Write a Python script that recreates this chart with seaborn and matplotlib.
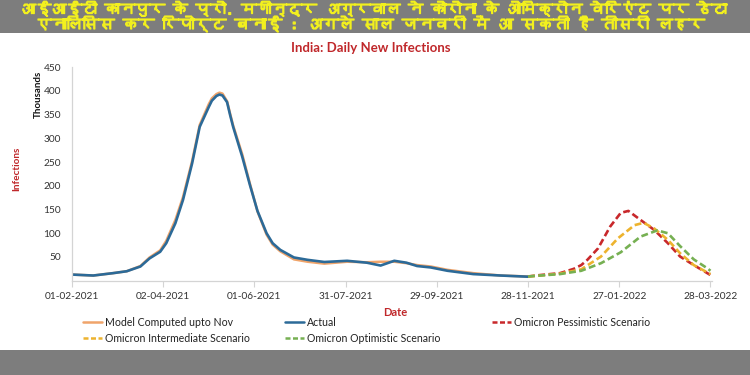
import matplotlib
matplotlib.use("Agg")
import numpy as np
import pandas as pd
import matplotlib.pyplot as plt
import matplotlib.dates as mdates
import matplotlib.patheffects as pe
from matplotlib.lines import Line2D
from matplotlib.patches import Rectangle
from matplotlib import font_manager
import seaborn as sns

# ---------------- data (thousands of daily new infections) ----------------
actual_dates = ["2021-02-01", "2021-02-15", "2021-02-28", "2021-03-09", "2021-03-18",
                "2021-03-24", "2021-03-31", "2021-04-04", "2021-04-10", "2021-04-15",
                "2021-04-21", "2021-04-26", "2021-05-02", "2021-05-04", "2021-05-07",
                "2021-05-09", "2021-05-11", "2021-05-14", "2021-05-16", "2021-05-18",
                "2021-05-24", "2021-05-29", "2021-06-03", "2021-06-09", "2021-06-13",
                "2021-06-18", "2021-06-27", "2021-07-06", "2021-07-17", "2021-08-01",
                "2021-08-14", "2021-08-23", "2021-09-01", "2021-09-09", "2021-09-16",
                "2021-09-25", "2021-10-06", "2021-10-23", "2021-11-10", "2021-11-28"]
actual_values = [13, 11, 16, 20, 30,
                 47, 61, 79, 121, 170,
                 247, 324, 366, 379, 389,
                 392, 390, 376, 349, 324,
                 261, 202, 147, 100, 79,
                 65, 49, 44, 39.5, 42,
                 38, 32, 42, 38, 31,
                 28, 21, 14, 11, 8.5]
model_values = [13, 11, 16, 20, 31,
                49, 64, 84, 128, 176,
                252, 328, 372, 384, 393,
                396, 394, 378, 352, 327,
                266, 205, 146, 97, 76,
                62, 45, 40, 36, 40,
                39, 40, 40, 37, 33,
                30, 23, 16, 11, 9]

omicron_dates = ["2021-11-28", "2021-12-06", "2021-12-19", "2021-12-28", "2022-01-02",
                 "2022-01-06", "2022-01-13", "2022-01-21", "2022-01-28", "2022-02-02",
                 "2022-02-10", "2022-02-19", "2022-02-28", "2022-03-08", "2022-03-17",
                 "2022-03-28"]
pessimistic_values = [9, 12, 16, 25, 33,
                      44, 68, 114, 143, 147,
                      128, 107, 79, 51, 33,
                      12]
intermediate_dates = ["2021-11-28", "2021-12-06", "2021-12-19", "2022-01-02", "2022-01-15",
                      "2022-01-26", "2022-02-06", "2022-02-12", "2022-02-19", "2022-02-28",
                      "2022-03-08", "2022-03-17", "2022-03-28"]
intermediate_values = [9, 11, 15, 24, 51,
                       89, 117, 122, 110, 86,
                       58, 33, 14]
optimistic_dates = ["2021-11-28", "2021-12-06", "2021-12-19", "2022-01-02", "2022-01-15",
                    "2022-01-28", "2022-02-10", "2022-02-21", "2022-02-28", "2022-03-08",
                    "2022-03-17", "2022-03-26", "2022-03-28"]
optimistic_values = [9, 11, 14, 21, 37,
                     60, 93, 106, 100, 73,
                     45, 26, 21]

x_tick_dates = ["2021-02-01", "2021-04-02", "2021-06-01", "2021-07-31",
                "2021-09-29", "2021-11-28", "2022-01-27", "2022-03-28"]
y_ticks = [50, 100, 150, 200, 250, 300, 350, 400, 450]

series_labels = ["Model Computed upto Nov", "Actual", "Omicron Pessimistic Scenario",
                 "Omicron Intermediate Scenario", "Omicron Optimistic Scenario"]
header_lines = ["आईआईटी कानपुर के प्रो. मणीन्द्र अग्रवाल ने कोरोना के ओमिक्रोन वेरिएंट पर डेटा",
                "एनालिसिस कर रिपोर्ट बनाई : अगले साल जनवरी में आ सकती है तीसरी लहर"]

# ---------------- style ----------------
sns.set_theme(style="white")
plt.rcParams['font.family'] = ['Lato', 'DejaVu Sans']


def _font_with(ch):
    try:
        from fontTools.ttLib import TTFont
    except Exception:
        return None
    for fe in font_manager.fontManager.ttflist:
        try:
            kw = {}
            if fe.fname.lower().endswith(('.ttc', '.otc')):
                kw['fontNumber'] = 0
            t = TTFont(fe.fname, lazy=True, **kw)
            cm = t.getBestCmap()
            if cm and ord(ch) in cm:
                return fe.name
        except Exception:
            continue
    return None


deva = _font_with('क')
hindi_family = [deva, 'DejaVu Sans'] if deva else ['DejaVu Sans']

C_MODEL = "#F0A46A"
C_ACTUAL = "#2C6A98"
C_PESS = "#C8282B"
C_INTER = "#EDB32E"
C_OPT = "#76B052"
C_HDR = "#F2F01E"

W, H = 750, 375
fig = plt.figure(figsize=(7.5, 3.75), dpi=100)
fig.patch.set_facecolor("white")

# banners
fig.patches.append(Rectangle((0, 1 - 33 / H), 1, 33 / H, transform=fig.transFigure,
                             facecolor="#7d7d7d", edgecolor="none", zorder=0))
fig.patches.append(Rectangle((0, 0), 1, 25 / H, transform=fig.transFigure,
                             facecolor="#7d7d7d", edgecolor="none", zorder=0))
hdr_fx = [pe.withStroke(linewidth=0.9, foreground=C_HDR)]
hdr1 = fig.text(373 / W, 1 - 8.5 / H, header_lines[0], ha="center", va="center",
                color=C_HDR, fontsize=11, fontweight="bold", family=hindi_family,
                path_effects=hdr_fx)
hdr2 = fig.text(371 / W, 1 - 24 / H, header_lines[1], ha="center", va="center",
                color=C_HDR, fontsize=11, fontweight="bold", family=hindi_family,
                path_effects=hdr_fx)

x0, x1, y0, y1 = 72, 712, 67, 280.75
ax = fig.add_axes([x0 / W, 1 - y1 / H, (x1 - x0) / W, (y1 - y0) / H])
ax.set_facecolor("white")

df_actual = pd.DataFrame({"date": pd.to_datetime(actual_dates), "model": model_values,
                          "actual": actual_values})
df_pess = pd.DataFrame({"date": pd.to_datetime(omicron_dates), "v": pessimistic_values})
df_inter = pd.DataFrame({"date": pd.to_datetime(intermediate_dates), "v": intermediate_values})
df_opt = pd.DataFrame({"date": pd.to_datetime(optimistic_dates), "v": optimistic_values})

dash = (0, (2.6, 1.3))
sns.lineplot(data=df_actual, x="date", y="model", ax=ax, color=C_MODEL, linewidth=1.8)
sns.lineplot(data=df_actual, x="date", y="actual", ax=ax, color=C_ACTUAL, linewidth=1.9)
sns.lineplot(data=df_pess, x="date", y="v", ax=ax, color=C_PESS, linewidth=1.9, linestyle=dash)
sns.lineplot(data=df_inter, x="date", y="v", ax=ax, color=C_INTER, linewidth=1.9, linestyle=dash)
sns.lineplot(data=df_opt, x="date", y="v", ax=ax, color=C_OPT, linewidth=1.9, linestyle=dash)

ax.set_xlim(pd.Timestamp("2021-02-01"), pd.Timestamp("2022-03-29"))
ax.set_ylim(0, 450)
ax.set_xticks(pd.to_datetime(x_tick_dates))
ax.xaxis.set_major_formatter(mdates.DateFormatter("%d-%m-%Y"))
ax.set_yticks(y_ticks)
ax.set_xlabel("")
ax.set_ylabel("")
for s in ["top", "right"]:
    ax.spines[s].set_visible(False)
for s in ["left", "bottom"]:
    ax.spines[s].set_color("#d4d4d4")
    ax.spines[s].set_linewidth(0.9)
ax.tick_params(axis="x", length=4, width=0.8, color="#d4d4d4", pad=4,
               labelsize=7.3, labelcolor="#333333", bottom=True)
ax.tick_params(axis="y", length=0, pad=8, labelsize=7.3, labelcolor="#333333", left=True)
ax.grid(False)

# titles & axis labels
fig.text(371 / W, 1 - 48 / H, "India: Daily New Infections", ha="center", va="center",
         color="#C0282B", fontsize=9.5, fontweight="bold")
fig.text(38 / W, 1 - 94 / H, "Thousands", rotation=90, ha="center", va="center",
         color="#111111", fontsize=7, fontweight="bold")
fig.text(17 / W, 1 - 169 / H, "Infections", rotation=90, ha="center", va="center",
         color="#C0282B", fontsize=7.2, fontweight="bold")
fig.text(395 / W, 1 - 312 / H, "Date", ha="center", va="center",
         color="#C0282B", fontsize=8, fontweight="bold")

# legend (three columns)
def h(color, dashed):
    return Line2D([], [], color=color, linewidth=1.8,
                  linestyle=(0, (2.0, 1.0)) if dashed else "-")

leg_kw = dict(loc="upper left", frameon=False, borderpad=0, borderaxespad=0,
              handlelength=1.8, handletextpad=0.3, labelspacing=0.45,
              prop={"family": ["Lato", "DejaVu Sans"], "size": 7.6})
l1 = fig.legend([h(C_MODEL, False), h(C_INTER, True)], [series_labels[0], series_labels[3]],
                bbox_to_anchor=(83 / W, 1 - 317 / H), **leg_kw)
l2 = fig.legend([h(C_ACTUAL, False), h(C_OPT, True)], [series_labels[1], series_labels[4]],
                bbox_to_anchor=(285 / W, 1 - 317 / H), **leg_kw)
l3 = fig.legend([h(C_PESS, True)], [series_labels[2]],
                bbox_to_anchor=(492 / W, 1 - 317 / H), **leg_kw)
for lg in (l1, l2, l3):
    for t in lg.get_texts():
        t.set_color("#222222")

# fit the header lines to the widths they take in the reference
renderer = fig.canvas.get_renderer()
for txt, target in ((hdr1, 706), (hdr2, 668)):
    for _ in range(3):
        wpx = txt.get_window_extent(renderer).width
        if wpx > 0:
            txt.set_fontsize(txt.get_fontsize() * target / wpx)

fig.savefig("out.png", dpi=100, facecolor="white")
